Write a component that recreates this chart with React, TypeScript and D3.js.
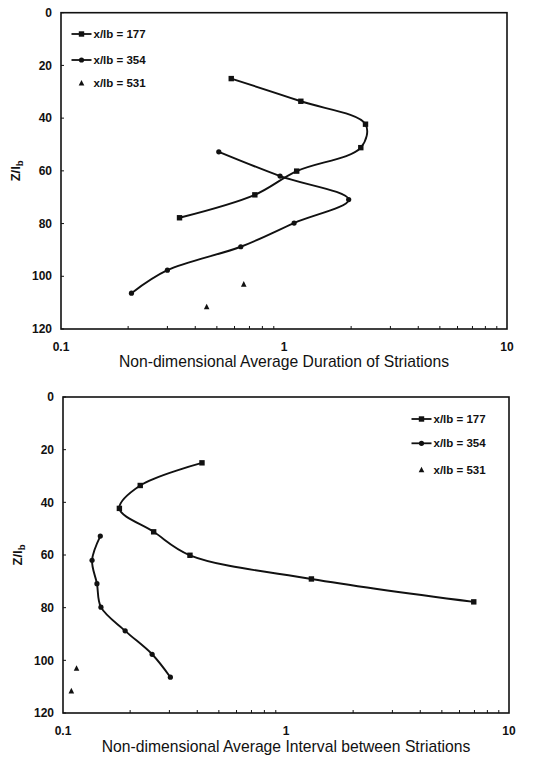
import React from "react";
import * as d3 from "d3";

// Depth below the surface, Z/l_b, for each downstream station
const depth177 = [25, 33.6, 42.3, 51.2, 60.1, 69.1, 77.8];
const depth354 = [52.8, 62.0, 70.9, 79.8, 88.8, 97.7, 106.4];
const depth531 = [103.1, 111.7];

// Non-dimensional average duration of striations
const duration177 = [0.58, 1.19, 2.32, 2.21, 1.14, 0.74, 0.34];
const duration354 = [0.51, 0.96, 1.95, 1.11, 0.64, 0.3, 0.207];
const duration531 = [0.66, 0.45];

// Non-dimensional average interval between striations
const interval177 = [0.42, 0.222, 0.179, 0.255, 0.371, 1.3, 6.95];
const interval354 = [0.147, 0.135, 0.142, 0.148, 0.19, 0.251, 0.303];
const interval531 = [0.115, 0.109];

const seriesLabels = ["x/lb = 177", "x/lb = 354", "x/lb = 531"];
const yTicks = [0, 20, 40, 60, 80, 100, 120];
const xTickLabels = [0.1, 1, 10];

const FONT = "'Liberation Sans', Arial, sans-serif";
const INK = "#111";

type Pt = { x: number; z: number };

const zip = (xs: number[], zs: number[]): Pt[] => xs.map((x, i) => ({ x, z: zs[i] }));

function Marker({ kind, cx, cy }: { kind: string; cx: number; cy: number }) {
  if (kind === "square") return <rect x={cx - 2.7} y={cy - 2.7} width={5.4} height={5.4} fill={INK} />;
  if (kind === "circle") return <circle cx={cx} cy={cy} r={2.6} fill={INK} />;
  const s = 5.6;
  return (
    <path
      d={`M${cx},${cy - s * 0.6} L${cx + s / 2},${cy + s * 0.4} L${cx - s / 2},${cy + s * 0.4} Z`}
      fill={INK}
    />
  );
}

function Panel({
  top,
  left,
  width,
  height,
  s177,
  s354,
  s531,
  xTitle,
  legendX,
  legendY,
}: {
  top: number;
  left: number;
  width: number;
  height: number;
  s177: Pt[];
  s354: Pt[];
  s531: Pt[];
  xTitle: string;
  legendX: number;
  legendY: number[];
}) {
  const x = d3.scaleLog().domain([0.1, 10]).range([0, width]);
  const y = d3.scaleLinear().domain([0, 120]).range([0, height]);
  const line = d3
    .line<Pt>()
    .x((d) => x(d.x))
    .y((d) => y(d.z))
    .curve(d3.curveCatmullRom.alpha(0.5));

  const minor: number[] = [];
  [0.1, 1].forEach((dec) => {
    for (let k = 2; k <= 9; k++) minor.push(dec * k);
  });

  const kinds = ["square", "circle", "triangle"];

  return (
    <g transform={`translate(${left},${top})`}>
      {/* frame */}
      <rect x={0} y={0} width={width} height={height} fill="none" stroke={INK} strokeWidth={1.6} />
      {/* y ticks, pointing inward */}
      {yTicks.map((t) => (
        <g key={t}>
          <line x1={0} x2={3} y1={y(t)} y2={y(t)} stroke={INK} strokeWidth={1} />
          <text
            x={-9}
            y={y(t)}
            dy="0.35em"
            textAnchor="end"
            fontFamily={FONT}
            fontWeight="bold"
            fontSize={12}
            fill={INK}
          >
            {t}
          </text>
        </g>
      ))}
      {/* x minor ticks, pointing inward */}
      {minor.map((m) => (
        <line key={m} x1={x(m)} x2={x(m)} y1={height} y2={height - 3} stroke={INK} strokeWidth={1} />
      ))}
      {xTickLabels.map((t) => (
        <text
          key={t}
          x={x(t)}
          y={height + 22}
          textAnchor="middle"
          fontFamily={FONT}
          fontWeight="bold"
          fontSize={12}
          fill={INK}
        >
          {t}
        </text>
      ))}
      <text
        x={width / 2}
        y={height + 38.5}
        textAnchor="middle"
        fontFamily={FONT}
        fontSize={15.7}
        fill={INK}
      >
        {xTitle}
      </text>
      <text
        transform={`translate(${-41},${height / 2}) rotate(-90)`}
        textAnchor="middle"
        fontFamily={FONT}
        fontWeight="bold"
        fontSize={13}
        fill={INK}
      >
        Z/l
        <tspan fontSize={9.5} dy={3}>
          b
        </tspan>
      </text>

      {/* series lines */}
      <path d={line(s177) ?? ""} fill="none" stroke={INK} strokeWidth={1.9} />
      <path d={line(s354) ?? ""} fill="none" stroke={INK} strokeWidth={1.9} />
      {s177.map((d, i) => (
        <Marker key={"a" + i} kind="square" cx={x(d.x)} cy={y(d.z)} />
      ))}
      {s354.map((d, i) => (
        <Marker key={"b" + i} kind="circle" cx={x(d.x)} cy={y(d.z)} />
      ))}
      {s531.map((d, i) => (
        <Marker key={"c" + i} kind="triangle" cx={x(d.x)} cy={y(d.z)} />
      ))}

      {/* legend */}
      {seriesLabels.map((lab, i) => (
        <g key={lab} transform={`translate(${legendX},${legendY[i]})`}>
          {i < 2 && <line x1={0} x2={20} y1={0} y2={0} stroke={INK} strokeWidth={1.8} />}
          <Marker kind={kinds[i]} cx={10} cy={0} />
          <text x={22} y={0} dy="0.35em" fontFamily={FONT} fontWeight="bold" fontSize={11.5} fill={INK}>
            {lab}
          </text>
        </g>
      ))}
    </g>
  );
}

export default function App() {
  return (
    <svg
      width={535}
      height={767}
      style={{ position: "absolute", left: 0, top: 0, background: "#fff" }}
    >
      <rect width={535} height={767} fill="#fff" />
      <Panel
        top={12.7}
        left={61}
        width={446}
        height={316.3}
        s177={zip(duration177, depth177)}
        s354={zip(duration354, depth354)}
        s531={zip(duration531, depth531)}
        xTitle="Non-dimensional Average Duration of Striations"
        legendX={10.5}
        legendY={[21.3, 47.3, 70.6]}
      />
      <Panel
        top={397}
        left={63}
        width={446}
        height={316}
        s177={zip(interval177, depth177)}
        s354={zip(interval354, depth354)}
        s531={zip(interval531, depth531)}
        xTitle="Non-dimensional Average Interval between Striations"
        legendX={348.5}
        legendY={[22, 46.3, 73]}
      />
    </svg>
  );
}
